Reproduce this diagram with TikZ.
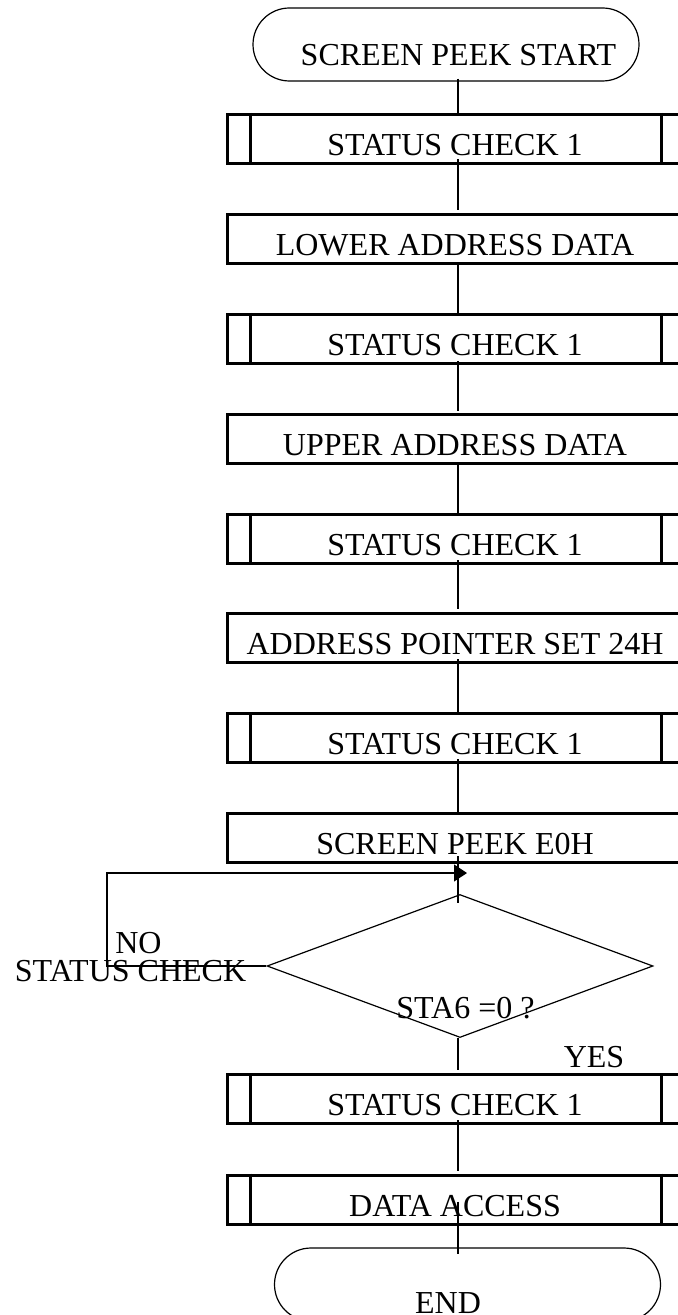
\documentclass[tikz,border=0pt]{standalone}
\usepackage{fontspec}
\setmainfont{Liberation Serif}
\usetikzlibrary{shapes.geometric,shapes.misc,arrows.meta}

\begin{document}
\begin{tikzpicture}[x=0.5pt,y=-0.5pt,
	box/.style={rectangle,draw,line width=1.5pt,minimum width=228pt,minimum height=24.5pt,inner sep=0pt,text height=16.5pt,text depth=0pt,font=\fontsize{16}{19}\selectfont},
	term/.style={rounded rectangle,draw,line width=0.6pt,minimum width=193pt,minimum height=36.5pt,inner sep=0pt},
	test/.style={diamond,draw,line width=0.6pt,minimum width=193pt,minimum height=71.5pt,inner sep=0pt},
	txt/.style={anchor=base,inner sep=0pt,font=\fontsize{16}{19}\selectfont},
	line/.style={line width=0.6pt}]
\useasboundingbox (0,0) rectangle (678,1315);
\coordinate (spine) at (458,0);
\node[term] (start) at (446,44.5) {};
\node[txt] (starttext) at (458.5,66) {SCREEN PEEK START};
\foreach \y/\n/\t in {139/sa/STATUS CHECK 1,239/lo/LOWER ADDRESS DATA,339/sb/STATUS CHECK 1,439/up/UPPER ADDRESS DATA,539/sc/STATUS CHECK 1,638/ap/ADDRESS POINTER SET 24H,738/sd/STATUS CHECK 1,838/pk/SCREEN PEEK E0H,1099/se/STATUS CHECK 1,1199.5/da/DATA ACCESS}
{
	\node[box] (\n) at (455,\y) {\t};
}
% side bars of the subroutine boxes
\foreach \n in {sa,sb,sc,sd,se,da}
{
	\draw[line width=1.5pt] ([xshift=12.5pt]\n.north west) -- ([xshift=12.5pt]\n.south west);
	\draw[line width=1.5pt] ([xshift=-11.5pt]\n.north east) -- ([xshift=-11.5pt]\n.south east);
}
\node[test] (chk) at (460,966) {};
\node[txt] (chktext) at (465.5,1018) {STA6 =0 ?};
\node[txt] (no) at (138.5,953) {NO};
\node[txt] (stc) at (130.5,981) {STATUS CHECK};
\node[txt] (yes) at (594,1067) {YES};
\node[term] (end) at (467.5,1284.5) {};
\node[txt] (endtext) at (448,1313) {END};
% main line
\foreach \a/\b/\s/\e in {start/sa/1.5/-1.5,sa/lo/3/1.5,lo/sb/0/0,sb/up/2/1,up/sc/0/0,sc/ap/2.5/1.5,ap/sd/2.5/0,sd/pk/2.5/0,pk/chk/4/-4.5,chk/se/0/1.5,se/da/2.5/1.5,da/end/12/-3.5}
{
	\draw[line] ([yshift=\s pt]\a.south -| spine) -- ([yshift=\e pt]\b.north -| spine);
}
% loop back
\coordinate (corner) at (107,873);
\coordinate (back) at (467,873);
\draw[line,-{Triangle[length=6.5pt,width=8.5pt]}] (chk.west) -| (corner) -- (back);
\end{tikzpicture}
\end{document}
